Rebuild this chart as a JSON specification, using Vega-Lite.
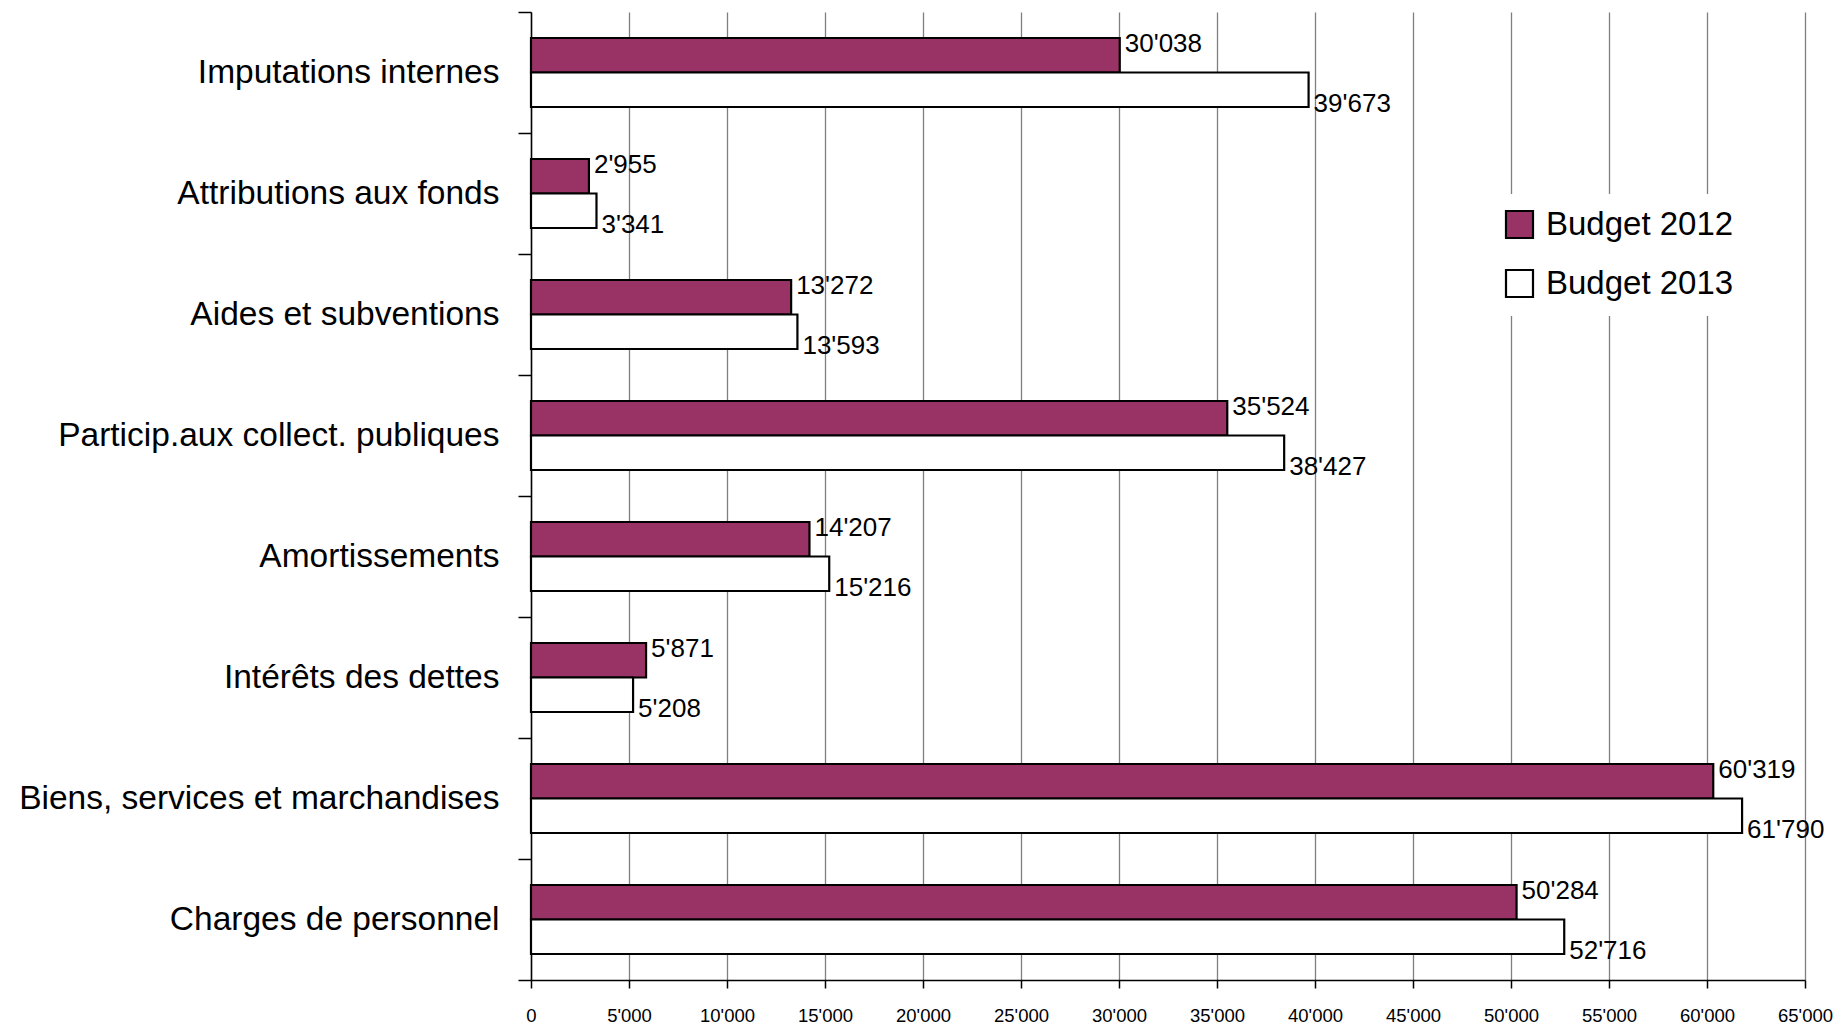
{
  "$schema": "https://vega.github.io/schema/vega-lite/v6.json",
  "width": 1274,
  "height": 968,
  "autosize": {"type": "none"},
  "padding": {"left": 531, "top": 12, "right": 35, "bottom": 49},
  "background": "white",
  "config": {
    "locale": {"number": {"decimal": ".", "thousands": "'", "grouping": [3], "currency": ["", ""]}},
    "view": {"stroke": null},
    "font": "Liberation Sans, Arial, sans-serif"
  },
  "data": {
    "values": [
      {"category": "Imputations internes", "budget": "Budget 2012", "value": 30038},
      {"category": "Imputations internes", "budget": "Budget 2013", "value": 39673},
      {"category": "Attributions aux fonds", "budget": "Budget 2012", "value": 2955},
      {"category": "Attributions aux fonds", "budget": "Budget 2013", "value": 3341},
      {"category": "Aides et subventions", "budget": "Budget 2012", "value": 13272},
      {"category": "Aides et subventions", "budget": "Budget 2013", "value": 13593},
      {"category": "Particip.aux collect. publiques", "budget": "Budget 2012", "value": 35524},
      {"category": "Particip.aux collect. publiques", "budget": "Budget 2013", "value": 38427},
      {"category": "Amortissements", "budget": "Budget 2012", "value": 14207},
      {"category": "Amortissements", "budget": "Budget 2013", "value": 15216},
      {"category": "Intérêts des dettes", "budget": "Budget 2012", "value": 5871},
      {"category": "Intérêts des dettes", "budget": "Budget 2013", "value": 5208},
      {"category": "Biens, services et marchandises", "budget": "Budget 2012", "value": 60319},
      {"category": "Biens, services et marchandises", "budget": "Budget 2013", "value": 61790},
      {"category": "Charges de personnel", "budget": "Budget 2012", "value": 50284},
      {"category": "Charges de personnel", "budget": "Budget 2013", "value": 52716}
    ]
  },
  "encoding": {
    "y": {
      "field": "category",
      "type": "nominal",
      "sort": ["Imputations internes", "Attributions aux fonds", "Aides et subventions", "Particip.aux collect. publiques", "Amortissements", "Intérêts des dettes", "Biens, services et marchandises", "Charges de personnel"],
      "scale": {"paddingInner": 0, "paddingOuter": 0},
      "axis": {
        "title": null,
        "grid": false,
        "tickBand": "extent",
        "domainColor": "black",
        "domainWidth": 1.5,
        "tickColor": "black",
        "tickWidth": 1.5,
        "tickSize": 13,
        "labelPadding": 19,
        "labelFontSize": 33.5,
        "labelColor": "black",
        "labelLimit": 600
      }
    },
    "yOffset": {
      "field": "budget",
      "sort": ["Budget 2012", "Budget 2013"],
      "scale": {"paddingInner": 0, "paddingOuter": 0.754}
    },
    "x": {
      "field": "value",
      "type": "quantitative",
      "scale": {"domain": [0, 65000], "nice": false},
      "axis": {
        "title": null,
        "values": [0, 5000, 10000, 15000, 20000, 25000, 30000, 35000, 40000, 45000, 50000, 55000, 60000, 65000],
        "format": ",d",
        "grid": true,
        "gridColor": "#7f7f7f",
        "gridWidth": 1.3,
        "domainColor": "black",
        "domainWidth": 1.5,
        "tickColor": "black",
        "tickWidth": 1.5,
        "tickSize": 8,
        "labelPadding": 18,
        "labelFontSize": 18.5,
        "labelColor": "black",
        "labelFlush": false
      }
    }
  },
  "layer": [
    {
      "mark": {"type": "bar", "stroke": "black", "strokeWidth": 2.2},
      "encoding": {
        "fill": {
          "field": "budget",
          "type": "nominal",
          "scale": {"domain": ["Budget 2012", "Budget 2013"], "range": ["#993366", "#ffffff"]},
          "legend": {
            "title": null,
            "orient": "none",
            "legendX": 958,
            "legendY": 182,
            "fillColor": "white",
            "padding": 14,
            "symbolType": "square",
            "symbolSize": 729,
            "symbolStrokeColor": "black",
            "symbolStrokeWidth": 2.2,
            "labelFontSize": 33,
            "labelColor": "black",
            "labelOffset": 10,
            "rowPadding": 22,
            "labelLimit": 400
          }
        }
      }
    },
    {
      "transform": [{"filter": "datum.budget === 'Budget 2012'"}],
      "mark": {"type": "text", "align": "left", "baseline": "middle", "dx": 5, "dy": -11, "fontSize": 26, "color": "black"},
      "encoding": {"text": {"field": "value", "type": "quantitative", "format": ",d"}}
    },
    {
      "transform": [{"filter": "datum.budget === 'Budget 2013'"}],
      "mark": {"type": "text", "align": "left", "baseline": "middle", "dx": 5, "dy": 14, "fontSize": 26, "color": "black"},
      "encoding": {"text": {"field": "value", "type": "quantitative", "format": ",d"}}
    }
  ]
}
